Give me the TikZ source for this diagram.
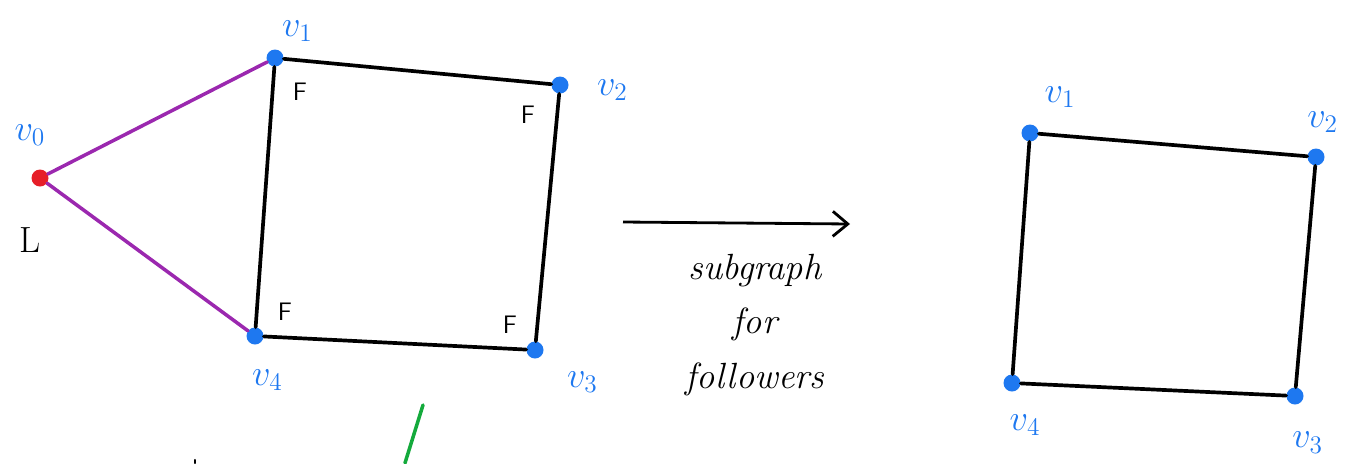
\documentclass[tikz,border=0pt]{standalone}
\usepackage{amsmath}
\usepackage{tikz}
\usetikzlibrary{calc,positioning,arrows.meta}
\usepackage{xcolor}
\definecolor{vblue}{RGB}{30,120,240}
\definecolor{lpurple}{RGB}{155,40,175}
\definecolor{lred}{RGB}{230,30,40}
\definecolor{pgreen}{RGB}{20,170,60}
\tikzset{
  vtx/.style={circle,fill=vblue,minimum size=3.4mm,inner sep=0pt},
  lead/.style={circle,fill=lred,minimum size=3.4mm,inner sep=0pt},
  sq/.style={line width=2.1pt,black,line cap=round},
  ldr/.style={line width=2.0pt,lpurple,line cap=round},
  vlab/.style={font=\huge,text=vblue},
  flab/.style={font=\Large\sffamily,text=black},
  note/.style={font=\huge\itshape,text=black},
  % the transform arrow between both graphs
  trans/.style={-{Straight Barb[length=3mm,width=5mm]},line width=1.6pt,black},
}
\newcommand{\LeftGraph}{%
  \node[lead] (v0) at (0.8,-3.56) {};
  \node[vtx] (v1) at (5.5,-1.16) {};
  \node[vtx] (v2) at (11.2,-1.7) {};
  \node[vtx] (v3) at (10.7,-7.0) {};
  \node[vtx] (v4) at (5.1,-6.72) {};
  \draw[sq] (v1)--(v2); \draw[sq] (v2)--(v3);
  \draw[sq] (v3)--(v4); \draw[sq] (v4)--(v1);
  \draw[ldr] (v0)--(v1); \draw[ldr] (v0)--(v4);
}
\newcommand{\RightGraph}{%
  \node[vtx] (w1) at (20.6,-2.66) {};
  \node[vtx] (w2) at (26.32,-3.14) {};
  \node[vtx] (w3) at (25.9,-7.92) {};
  \node[vtx] (w4) at (20.24,-7.66) {};
  \draw[sq] (w1)--(w2); \draw[sq] (w2)--(w3);
  \draw[sq] (w3)--(w4); \draw[sq] (w4)--(w1);
}

\begin{document}
\begin{tikzpicture}
  \useasboundingbox (0,0) rectangle (26.98,-9.26);
  \LeftGraph \RightGraph
  % labels of the left graph
  \node[vlab] (l0) at (0.6,-2.7) {$v_0$};
  \node[font=\huge] (lL) at (0.6,-4.8) {L};
  \node[vlab] (l1) at (5.95,-0.62) {$v_1$};
  \node[vlab] (l2) at (12.25,-1.8) {$v_2$};
  \node[vlab] (l3) at (11.65,-7.64) {$v_3$};
  \node[vlab] (l4) at (5.35,-7.6) {$v_4$};
  \node[flab] (f1) at (6.0,-1.84) {F};
  \node[flab] (f2) at (10.56,-2.3) {F};
  \node[flab] (f3) at (5.7,-6.24) {F};
  \node[flab] (f4) at (10.2,-6.5) {F};
  % the arrow and its note
  \coordinate (a0) at (12.46,-4.44);
  \coordinate (a1) at (17.0,-4.48);
  \draw[trans] (a0)--(a1);
  \node[note,align=center] (txt) at (15.1,-6.5) {subgraph\\[6pt]for\\[6pt]followers};
  % labels of the right graph
  \node[vlab] (r1) at (21.2,-1.94) {$v_1$};
  \node[vlab] (r2) at (26.45,-2.44) {$v_2$};
  \node[vlab] (r3) at (26.15,-8.85) {$v_3$};
  \node[vlab] (r4) at (20.5,-8.5) {$v_4$};
  % stray pen strokes
  \coordinate (g0) at (8.46,-8.1);
  \coordinate (g1) at (8.1,-9.26);
  \draw[pgreen,line width=2pt,line cap=round] (g0)--(g1);
  \coordinate (k0) at (3.9,-9.2);
  \draw[black,line width=1.2pt,line cap=round] (k0)--++(0,-0.06);
\end{tikzpicture}
\end{document}
